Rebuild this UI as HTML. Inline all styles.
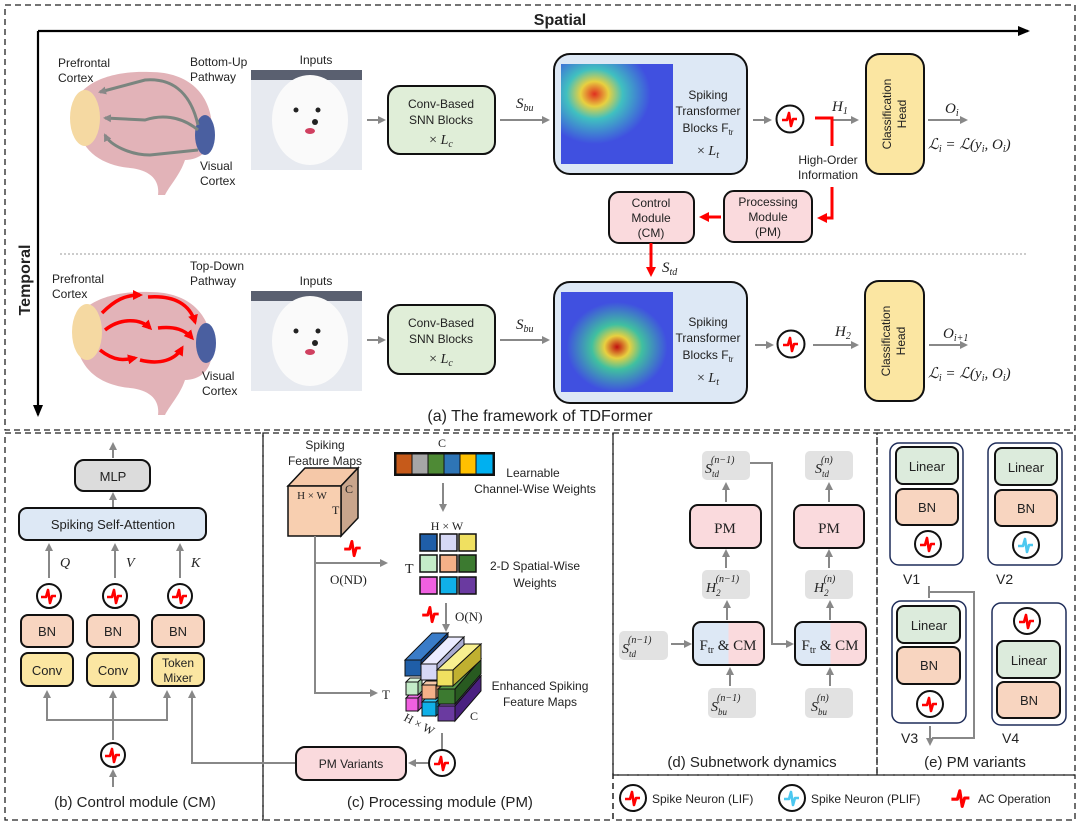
<!DOCTYPE html>
<html><head><meta charset="utf-8"><style>
body{margin:0;background:#fff}
svg{display:block}
text{font-family:"Liberation Sans",sans-serif;fill:#222}
.m{font-family:"Liberation Serif",serif;font-style:italic}
.s{font-family:"Liberation Serif",serif}
</style></head><body>
<svg width="1080" height="826" viewBox="0 0 1080 826" xmlns="http://www.w3.org/2000/svg">
<defs>
<marker id="ag" markerWidth="8" markerHeight="8" refX="6" refY="4" orient="auto" markerUnits="userSpaceOnUse"><path d="M0,0 L8,4 L0,8 z" fill="#888"/></marker>
<marker id="ar" markerWidth="10" markerHeight="10" refX="7" refY="5" orient="auto" markerUnits="userSpaceOnUse"><path d="M0,0 L10,5 L0,10 z" fill="#f00"/></marker>
<marker id="ak" markerWidth="12" markerHeight="10" refX="10" refY="5" orient="auto" markerUnits="userSpaceOnUse"><path d="M0,0 L12,5 L0,10 z" fill="#000"/></marker>
<symbol id="sp" viewBox="-10 -10 20 20"><path d="M-8,1 L-3,1 L-1,-6 L1,7 L3,0 L7,0" fill="none" stroke="#f00" stroke-width="2.6" stroke-linejoin="round"/></symbol>
<symbol id="spb" viewBox="-10 -10 20 20"><path d="M-8,1 L-3,1 L-1,-6 L1,7 L3,0 L7,0" fill="none" stroke="#4cc8f0" stroke-width="2.6" stroke-linejoin="round"/></symbol>
<radialGradient id="hm1" cx="0.3" cy="0.3" r="0.5"><stop offset="0" stop-color="#e03020"/><stop offset="0.25" stop-color="#e8d040"/><stop offset="0.5" stop-color="#40c0c0"/><stop offset="1" stop-color="#4050e0"/></radialGradient>
<radialGradient id="hm2" cx="0.5" cy="0.55" r="0.45"><stop offset="0" stop-color="#c01010"/><stop offset="0.25" stop-color="#e8d040"/><stop offset="0.5" stop-color="#40c0a0"/><stop offset="1" stop-color="#4050e0"/></radialGradient>
<linearGradient id="fc" x1="0" x2="1"><stop offset="0.5" stop-color="#dde8f5"/><stop offset="0.5" stop-color="#fadadd"/></linearGradient>
</defs>

<!-- frames -->
<g fill="none" stroke="#222" stroke-width="1.3" stroke-dasharray="6,4">
<rect x="5" y="5" width="1070" height="425"/>
<rect x="5" y="433" width="258" height="387"/>
<rect x="263" y="433" width="350" height="387"/>
<rect x="613" y="433" width="264" height="342"/>
<rect x="877" y="433" width="198" height="342"/>
<rect x="613" y="775" width="462" height="45"/>
</g>

<!-- axes -->
<line x1="38" y1="31" x2="1028" y2="31" stroke="#000" stroke-width="2.2" marker-end="url(#ak)"/>
<line x1="38" y1="31" x2="38" y2="415" stroke="#000" stroke-width="2.2" marker-end="url(#ak)"/>
<text x="560" y="25" font-size="16" font-weight="bold" text-anchor="middle" fill="#000">Spatial</text>
<text transform="translate(30,280) rotate(-90)" font-size="16" font-weight="bold" text-anchor="middle" fill="#000">Temporal</text>
<line x1="60" y1="254" x2="1028" y2="254" stroke="#999" stroke-dasharray="2,2"/>

<!-- brains -->
<g>
<path d="M75,115 C70,85 110,70 150,72 C190,72 210,95 212,125 C214,150 200,160 185,160 C180,175 170,185 165,195 L158,195 C160,180 150,170 130,168 C100,165 78,150 75,115 z" fill="#e2b3b8"/>
<ellipse cx="85" cy="118" rx="15" ry="28" fill="#f5d9a2"/>
<ellipse cx="205" cy="135" rx="10" ry="20" fill="#4a5fa0"/>
<g fill="none" stroke="#7a857f" stroke-width="3" marker-end="url(#ag)">
<path d="M198,125 C190,90 170,78 145,80 L100,92"/><path d="M198,130 C180,115 160,115 145,120 L105,118"/><path d="M198,150 L150,155 C130,155 110,145 105,135"/>
</g>
<path d="M75,335 C70,305 110,290 150,292 C190,292 210,315 212,345 C214,370 200,380 185,380 C180,395 170,405 165,415 L158,415 C160,400 150,390 130,388 C100,385 78,370 75,335 z" fill="#e2b3b8"/>
<ellipse cx="87" cy="332" rx="15" ry="28" fill="#f5d9a2"/>
<ellipse cx="206" cy="343" rx="10" ry="20" fill="#4a5fa0"/>
<g fill="none" stroke="#f00" stroke-width="3.5" marker-end="url(#ar)">
<path d="M102,313 C115,300 125,295 140,295"/><path d="M148,297 C175,295 190,305 195,322"/><path d="M105,330 C120,318 140,318 150,328"/><path d="M158,328 C175,326 185,330 192,338"/><path d="M100,350 C115,362 125,360 135,358"/><path d="M140,360 C160,365 175,360 182,348"/>
</g>
<text x="58" y="67" font-size="12">Prefrontal</text><text x="58" y="82" font-size="12">Cortex</text>
<text x="190" y="66" font-size="12">Bottom-Up</text><text x="190" y="81" font-size="12">Pathway</text>
<text x="200" y="170" font-size="12">Visual</text><text x="200" y="185" font-size="12">Cortex</text>
<text x="52" y="283" font-size="12">Prefrontal</text><text x="52" y="298" font-size="12">Cortex</text>
<text x="190" y="270" font-size="12">Top-Down</text><text x="190" y="285" font-size="12">Pathway</text>
<text x="202" y="380" font-size="12">Visual</text><text x="202" y="395" font-size="12">Cortex</text>
</g>

<!-- dogs -->
<g>
<text x="316" y="64" font-size="12" text-anchor="middle">Inputs</text>
<rect x="251" y="70" width="111" height="100" fill="#e7eaf0"/><rect x="251" y="70" width="111" height="10" fill="#5a6070"/>
<ellipse cx="310" cy="120" rx="38" ry="45" fill="#fafafa"/>
<circle cx="296" cy="110" r="2.5" fill="#222"/><circle cx="318" cy="110" r="2.5" fill="#222"/><circle cx="315" cy="122" r="3" fill="#222"/><ellipse cx="310" cy="131" rx="5" ry="3" fill="#d04060"/>
<text x="316" y="285" font-size="12" text-anchor="middle">Inputs</text>
<rect x="251" y="291" width="111" height="100" fill="#e7eaf0"/><rect x="251" y="291" width="111" height="10" fill="#5a6070"/>
<ellipse cx="310" cy="341" rx="38" ry="45" fill="#fafafa"/>
<circle cx="296" cy="331" r="2.5" fill="#222"/><circle cx="318" cy="331" r="2.5" fill="#222"/><circle cx="315" cy="343" r="3" fill="#222"/><ellipse cx="310" cy="352" rx="5" ry="3" fill="#d04060"/>
</g>

<!-- row 1 -->
<g stroke="#888" stroke-width="2" fill="none" marker-end="url(#ag)">
<line x1="367" y1="120" x2="384" y2="120"/><line x1="500" y1="120" x2="548" y2="120"/><line x1="753" y1="120" x2="770" y2="120"/><line x1="832" y1="120" x2="857" y2="120"/><line x1="928" y1="120" x2="966" y2="120"/>
<line x1="367" y1="340" x2="384" y2="340"/><line x1="500" y1="340" x2="548" y2="340"/><line x1="755" y1="345" x2="772" y2="345"/><line x1="813" y1="345" x2="857" y2="345"/><line x1="929" y1="345" x2="966" y2="345"/>
</g>
<rect x="388" y="86" width="107" height="68" rx="12" fill="#e0eed8" stroke="#111" stroke-width="2"/>
<text x="441" y="108" font-size="12" text-anchor="middle">Conv-Based</text><text x="441" y="124" font-size="12" text-anchor="middle">SNN Blocks</text><text x="441" y="144" font-size="14" text-anchor="middle" class="s">× <tspan class="m">L</tspan><tspan class="m" font-size="10" dy="3">c</tspan></text>
<rect x="388" y="305" width="107" height="69" rx="12" fill="#e0eed8" stroke="#111" stroke-width="2"/>
<text x="441" y="327" font-size="12" text-anchor="middle">Conv-Based</text><text x="441" y="343" font-size="12" text-anchor="middle">SNN Blocks</text><text x="441" y="363" font-size="14" text-anchor="middle" class="s">× <tspan class="m">L</tspan><tspan class="m" font-size="10" dy="3">c</tspan></text>
<text x="516" y="108" font-size="15" class="m">S<tspan font-size="10" dy="3">bu</tspan></text>
<text x="516" y="329" font-size="15" class="m">S<tspan font-size="10" dy="3">bu</tspan></text>

<rect x="554" y="54" width="193" height="120" rx="16" fill="#dde8f5" stroke="#111" stroke-width="2"/>
<rect x="561" y="64" width="112" height="100" fill="url(#hm1)"/>
<text x="708" y="99" font-size="12" text-anchor="middle">Spiking</text><text x="708" y="115" font-size="12" text-anchor="middle">Transformer</text><text x="708" y="132" font-size="12" text-anchor="middle">Blocks F<tspan font-size="8" dy="3">tr</tspan></text><text x="708" y="155" font-size="14" text-anchor="middle" class="s">× <tspan class="m">L</tspan><tspan class="m" font-size="10" dy="3">t</tspan></text>
<rect x="554" y="282" width="193" height="121" rx="16" fill="#dde8f5" stroke="#111" stroke-width="2"/>
<rect x="561" y="292" width="112" height="100" fill="url(#hm2)"/>
<text x="708" y="326" font-size="12" text-anchor="middle">Spiking</text><text x="708" y="342" font-size="12" text-anchor="middle">Transformer</text><text x="708" y="359" font-size="12" text-anchor="middle">Blocks F<tspan font-size="8" dy="3">tr</tspan></text><text x="708" y="382" font-size="14" text-anchor="middle" class="s">× <tspan class="m">L</tspan><tspan class="m" font-size="10" dy="3">t</tspan></text>

<circle cx="790" cy="119" r="13.5" fill="#fff" stroke="#111" stroke-width="2"/><use href="#sp" x="780" y="109" width="20" height="20"/>
<circle cx="791" cy="344" r="13.5" fill="#fff" stroke="#111" stroke-width="2"/><use href="#sp" x="781" y="334" width="20" height="20"/>
<text x="832" y="111" font-size="15" class="m">H<tspan font-size="10" dy="3" class="s">1</tspan></text>
<text x="835" y="336" font-size="15" class="m">H<tspan font-size="10" dy="3" class="s">2</tspan></text>
<path d="M815,118 L832,118 L832,146" fill="none" stroke="#f00" stroke-width="3"/>
<text x="828" y="164" font-size="12" text-anchor="middle">High-Order</text><text x="828" y="179" font-size="12" text-anchor="middle">Information</text>
<path d="M832,187 L832,218 L820,218" fill="none" stroke="#f00" stroke-width="3" marker-end="url(#ar)"/>
<rect x="724" y="191" width="88" height="51" rx="10" fill="#fadadd" stroke="#111" stroke-width="2"/>
<text x="768" y="206" font-size="12" text-anchor="middle">Processing</text><text x="768" y="221" font-size="12" text-anchor="middle">Module</text><text x="768" y="236" font-size="12" text-anchor="middle">(PM)</text>
<rect x="609" y="192" width="85" height="51" rx="10" fill="#fadadd" stroke="#111" stroke-width="2"/>
<text x="651" y="207" font-size="12" text-anchor="middle">Control</text><text x="651" y="222" font-size="12" text-anchor="middle">Module</text><text x="651" y="237" font-size="12" text-anchor="middle">(CM)</text>
<line x1="721" y1="217" x2="702" y2="217" stroke="#f00" stroke-width="3" marker-end="url(#ar)"/>
<line x1="651" y1="243" x2="651" y2="274" stroke="#f00" stroke-width="3" marker-end="url(#ar)"/>
<text x="662" y="272" font-size="15" class="m">S<tspan font-size="10" dy="3">td</tspan></text>

<rect x="866" y="54" width="58" height="120" rx="14" fill="#fbe6a2" stroke="#111" stroke-width="2"/>
<text transform="translate(891,114) rotate(-90)" font-size="12" text-anchor="middle">Classification</text><text transform="translate(906,114) rotate(-90)" font-size="12" text-anchor="middle">Head</text>
<rect x="865" y="281" width="59" height="120" rx="14" fill="#fbe6a2" stroke="#111" stroke-width="2"/>
<text transform="translate(890,341) rotate(-90)" font-size="12" text-anchor="middle">Classification</text><text transform="translate(905,341) rotate(-90)" font-size="12" text-anchor="middle">Head</text>
<text x="945" y="113" font-size="15" class="m">O<tspan font-size="10" dy="3">i</tspan></text>
<text x="943" y="338" font-size="15" class="m">O<tspan font-size="10" dy="3">i+1</tspan></text>
<text x="928" y="149" font-size="15" class="m">ℒ<tspan font-size="10" dy="3">i</tspan><tspan dy="-3" class="s"> = </tspan>ℒ<tspan class="s">(</tspan>y<tspan font-size="10" dy="3">i</tspan><tspan dy="-3" class="s">, </tspan>O<tspan font-size="10" dy="3">i</tspan><tspan dy="-3" class="s">)</tspan></text>
<text x="928" y="378" font-size="15" class="m">ℒ<tspan font-size="10" dy="3">i</tspan><tspan dy="-3" class="s"> = </tspan>ℒ<tspan class="s">(</tspan>y<tspan font-size="10" dy="3">i</tspan><tspan dy="-3" class="s">, </tspan>O<tspan font-size="10" dy="3">i</tspan><tspan dy="-3" class="s">)</tspan></text>
<text x="540" y="421" font-size="16" text-anchor="middle">(a) The framework of TDFormer</text>

<!-- panel b -->
<g stroke="#888" stroke-width="2" fill="none" marker-end="url(#ag)">
<line x1="113" y1="458" x2="113" y2="444"/><line x1="113" y1="507" x2="113" y2="494"/>
<line x1="49" y1="578" x2="49" y2="545"/><line x1="115" y1="578" x2="115" y2="545"/><line x1="180" y1="578" x2="180" y2="545"/>
<line x1="113" y1="740" x2="113" y2="692"/><line x1="113" y1="787" x2="113" y2="771"/>
<polyline points="113,720 47,720 47,692"/><polyline points="113,720 167,720 167,692"/>
<polyline points="296,763 192,763 192,692"/>
<line x1="442" y1="750" x2="442" y2="733" marker-end="none"/><line x1="428" y1="763" x2="410" y2="763"/>
</g>
<rect x="75" y="460" width="75" height="31" rx="9" fill="#dcdcdc" stroke="#111" stroke-width="2"/><text x="113" y="481" font-size="13" text-anchor="middle">MLP</text>
<rect x="19" y="508" width="187" height="32" rx="8" fill="#dde8f5" stroke="#111" stroke-width="2"/><text x="113" y="529" font-size="13" text-anchor="middle">Spiking Self-Attention</text>
<text x="60" y="567" font-size="14" class="m">Q</text><text x="126" y="567" font-size="14" class="m">V</text><text x="191" y="567" font-size="14" class="m">K</text>
<g fill="#fff" stroke="#111" stroke-width="2"><circle cx="49" cy="596" r="12"/><circle cx="115" cy="596" r="12"/><circle cx="180" cy="596" r="12"/><circle cx="113" cy="755" r="12"/><circle cx="442" cy="763" r="13"/></g>
<use href="#sp" x="39" y="586" width="20" height="20"/><use href="#sp" x="105" y="586" width="20" height="20"/><use href="#sp" x="170" y="586" width="20" height="20"/><use href="#sp" x="103" y="745" width="20" height="20"/><use href="#sp" x="432" y="753" width="20" height="20"/>
<g stroke="#111" stroke-width="2">
<rect x="21" y="615" width="52" height="32" rx="7" fill="#f8d5c0"/><rect x="87" y="615" width="52" height="32" rx="7" fill="#f8d5c0"/><rect x="152" y="615" width="52" height="32" rx="7" fill="#f8d5c0"/>
<rect x="21" y="653" width="52" height="33" rx="7" fill="#fbe6a2"/><rect x="87" y="653" width="52" height="33" rx="7" fill="#fbe6a2"/><rect x="152" y="653" width="52" height="33" rx="7" fill="#fbe6a2"/>
</g>
<text x="47" y="636" font-size="13" text-anchor="middle">BN</text><text x="113" y="636" font-size="13" text-anchor="middle">BN</text><text x="178" y="636" font-size="13" text-anchor="middle">BN</text>
<text x="47" y="675" font-size="13" text-anchor="middle">Conv</text><text x="113" y="675" font-size="13" text-anchor="middle">Conv</text><text x="178" y="667" font-size="12" text-anchor="middle">Token</text><text x="178" y="682" font-size="12" text-anchor="middle">Mixer</text>
<text x="135" y="807" font-size="15" text-anchor="middle">(b) Control module (CM)</text>

<!-- panel c -->
<text x="325" y="449" font-size="12" text-anchor="middle">Spiking</text><text x="325" y="465" font-size="12" text-anchor="middle">Feature Maps</text>
<path d="M288,486 L305,468 L358,468 L341,486 z" fill="#f5c8a8" stroke="#111" stroke-width="1.5"/>
<path d="M341,486 L358,468 L358,518 L341,536 z" fill="#c9a58c" stroke="#111" stroke-width="1.5"/>
<rect x="288" y="486" width="53" height="50" fill="#f8cfb0" stroke="#111" stroke-width="1.5"/>
<text x="312" y="499" font-size="11" text-anchor="middle" class="s">H × W</text><text x="332" y="514" font-size="12" class="s">T</text><text x="345" y="493" font-size="12" class="s">C</text>
<text x="442" y="447" font-size="12" text-anchor="middle" class="s">C</text>
<g stroke="#111" stroke-width="1"><rect x="396" y="454" width="16" height="20" fill="#c65a1a"/><rect x="412" y="454" width="16" height="20" fill="#a6a6a6"/><rect x="428" y="454" width="16" height="20" fill="#4e8a35"/><rect x="444" y="454" width="16" height="20" fill="#2e75b6"/><rect x="460" y="454" width="16" height="20" fill="#ffc000"/><rect x="476" y="454" width="17" height="20" fill="#00b0f0"/></g>
<rect x="395" y="453" width="99" height="22" fill="none" stroke="#111" stroke-width="2"/>
<text x="533" y="477" font-size="12" text-anchor="middle">Learnable</text><text x="535" y="493" font-size="12" text-anchor="middle">Channel-Wise Weights</text>
<g stroke="#888" stroke-width="2" fill="none" marker-end="url(#ag)">
<line x1="443" y1="483" x2="443" y2="510"/><line x1="446" y1="603" x2="446" y2="630"/>
<polyline points="315,536 315,693 376,693"/><line x1="315" y1="563" x2="386" y2="563"/>
</g>
<text x="447" y="530" font-size="12" text-anchor="middle" class="s">H × W</text>
<text x="405" y="573" font-size="14" class="s">T</text>
<g stroke="#111" stroke-width="1.5">
<rect x="420" y="534" width="17" height="17" fill="#1f5ea8"/><rect x="440" y="534" width="17" height="17" fill="#d6d8f5"/><rect x="459" y="534" width="17" height="17" fill="#f0e060"/>
<rect x="420" y="555" width="17" height="17" fill="#c4ecc8"/><rect x="440" y="555" width="17" height="17" fill="#f4b088"/><rect x="459" y="555" width="17" height="17" fill="#3c7a30"/>
<rect x="420" y="577" width="17" height="17" fill="#f060e0"/><rect x="440" y="577" width="17" height="17" fill="#10b0e8"/><rect x="459" y="577" width="17" height="17" fill="#6a3aa0"/>
</g>
<text x="535" y="570" font-size="12" text-anchor="middle">2-D Spatial-Wise</text><text x="535" y="587" font-size="12" text-anchor="middle">Weights</text>
<use href="#sp" x="342" y="537" width="22" height="22"/>
<text x="330" y="584" font-size="13" class="s">O(ND)</text>
<use href="#sp" x="420" y="603" width="22" height="22"/>
<text x="455" y="621" font-size="13" class="s">O(N)</text>
<text x="382" y="699" font-size="13" class="s">T</text>
<!-- 3d bars: row3, row2, row1 -->
<g stroke="#111" stroke-width="1">
<!-- row 3 -->
<path d="M406,698 L410,694 L422,694 L418,698 z" fill="#f070e8"/><rect x="406" y="698" width="12" height="13" fill="#f060e0"/><path d="M418,698 L422,694 L422,707 L418,711z" fill="#b040a8"/>
<path d="M422,702 L426,698 L440,698 L436,702 z" fill="#30c8f8"/><rect x="422" y="702" width="14" height="14" fill="#10b0e8"/><path d="M436,702 L440,698 L440,712 L436,716z" fill="#0888b8"/>
<path d="M438,706 L474,676 L481,676 L455,706 z" fill="#8a5ac0"/><rect x="438" y="706" width="17" height="15" fill="#6a3aa0"/><path d="M455,706 L481,676 L481,691 L455,721 z" fill="#4a2080"/>
<!-- row 2 -->
<path d="M406,682 L410,678 L422,678 L418,682 z" fill="#d8f4da"/><rect x="406" y="682" width="12" height="13" fill="#c4ecc8"/><path d="M418,682 L422,678 L422,691 L418,695z" fill="#98c89c"/>
<path d="M422,685 L426,681 L440,681 L436,685 z" fill="#f8c8a8"/><rect x="422" y="685" width="14" height="14" fill="#f4b088"/><path d="M436,685 L440,681 L440,695 L436,699z" fill="#c88860"/>
<path d="M438,689 L474,659 L481,659 L455,689 z" fill="#5a9a48"/><rect x="438" y="689" width="17" height="15" fill="#3c7a30"/><path d="M455,689 L481,659 L481,674 L455,704 z" fill="#285a20"/>
<!-- row 1 -->
<path d="M405,660 L432,633 L448,633 L421,660 z" fill="#3a7cc8"/><rect x="405" y="660" width="16" height="16" fill="#1f5ea8"/><path d="M421,660 L448,633 L448,649 L421,676 z" fill="#134080"/>
<path d="M421,664 L448,637 L464,637 L437,664 z" fill="#ececff"/><rect x="421" y="664" width="16" height="16" fill="#d6d8f5"/><path d="M437,664 L464,637 L464,653 L437,680 z" fill="#a8aad0"/>
<path d="M437,670 L465,644 L481,644 L453,670 z" fill="#f8f090"/><rect x="437" y="670" width="16" height="16" fill="#f0e060"/><path d="M453,670 L481,644 L481,660 L453,686 z" fill="#c0b030"/>
</g>
<text x="470" y="720" font-size="12" class="s">C</text>
<text transform="translate(403,720) rotate(28)" font-size="12" class="s">H × W</text>
<text x="540" y="690" font-size="12" text-anchor="middle">Enhanced Spiking</text><text x="540" y="706" font-size="12" text-anchor="middle">Feature Maps</text>
<rect x="296" y="747" width="110" height="33" rx="9" fill="#fadadd" stroke="#111" stroke-width="2"/><text x="351" y="768" font-size="12" text-anchor="middle">PM Variants</text>
<text x="440" y="807" font-size="15" text-anchor="middle">(c) Processing module (PM)</text>

<!-- panel d -->
<g fill="#e2e2e2"><rect x="702" y="451" width="48" height="29" rx="5"/><rect x="805" y="451" width="48" height="29" rx="5"/><rect x="702" y="570" width="48" height="29" rx="5"/><rect x="805" y="570" width="48" height="29" rx="5"/><rect x="619" y="631" width="49" height="29" rx="5"/><rect x="708" y="688" width="48" height="30" rx="5"/><rect x="805" y="688" width="48" height="30" rx="5"/></g>
<g stroke="#888" stroke-width="2" fill="none" marker-end="url(#ag)">
<line x1="726" y1="502" x2="726" y2="484"/><line x1="829" y1="502" x2="829" y2="484"/>
<line x1="726" y1="568" x2="726" y2="551"/><line x1="829" y1="568" x2="829" y2="551"/>
<line x1="727" y1="620" x2="727" y2="602"/><line x1="830" y1="620" x2="830" y2="602"/>
<line x1="730" y1="686" x2="730" y2="669"/><line x1="830" y1="686" x2="830" y2="669"/>
<line x1="671" y1="644" x2="690" y2="644"/><polyline points="750,463 772,463 772,644 792,644"/>
</g>
<rect x="690" y="505" width="71" height="43" rx="8" fill="#fadadd" stroke="#111" stroke-width="2"/><text x="725" y="533" font-size="15" text-anchor="middle" class="s">PM</text>
<rect x="794" y="505" width="70" height="43" rx="8" fill="#fadadd" stroke="#111" stroke-width="2"/><text x="829" y="533" font-size="15" text-anchor="middle" class="s">PM</text>
<rect x="693" y="622" width="71" height="43" rx="8" fill="url(#fc)" stroke="#111" stroke-width="2"/><text x="728" y="650" font-size="15" text-anchor="middle" class="s">F<tspan font-size="10" dy="3">tr</tspan><tspan dy="-3"> &amp; CM</tspan></text>
<rect x="795" y="622" width="71" height="43" rx="8" fill="url(#fc)" stroke="#111" stroke-width="2"/><text x="830" y="650" font-size="15" text-anchor="middle" class="s">F<tspan font-size="10" dy="3">tr</tspan><tspan dy="-3"> &amp; CM</tspan></text>
<g class="m" font-size="14">
<text x="705" y="473" class="m">S<tspan font-size="9" dy="4">td</tspan><tspan font-size="10" dy="-14" dx="-8">(n−1)</tspan></text>
<text x="815" y="473" class="m">S<tspan font-size="9" dy="4">td</tspan><tspan font-size="10" dy="-14" dx="-8">(n)</tspan></text>
<text x="706" y="592" class="m">H<tspan font-size="9" dy="4">2</tspan><tspan font-size="10" dy="-14" dx="-5">(n−1)</tspan></text>
<text x="814" y="592" class="m">H<tspan font-size="9" dy="4">2</tspan><tspan font-size="10" dy="-14" dx="-5">(n)</tspan></text>
<text x="622" y="653" class="m">S<tspan font-size="9" dy="4">td</tspan><tspan font-size="10" dy="-14" dx="-8">(n−1)</tspan></text>
<text x="711" y="711" class="m">S<tspan font-size="9" dy="4">bu</tspan><tspan font-size="10" dy="-14" dx="-10">(n−1)</tspan></text>
<text x="811" y="711" class="m">S<tspan font-size="9" dy="4">bu</tspan><tspan font-size="10" dy="-14" dx="-10">(n)</tspan></text>
</g>
<text x="752" y="767" font-size="15" text-anchor="middle">(d) Subnetwork dynamics</text>

<!-- panel e -->
<g fill="#fff" stroke="#1f2d5a" stroke-width="1.5"><rect x="890" y="443" width="73" height="122" rx="9"/><rect x="988" y="443" width="74" height="122" rx="9"/><rect x="892" y="601" width="74" height="122" rx="9"/><rect x="992" y="603" width="74" height="122" rx="9"/></g>
<g stroke="#111" stroke-width="2">
<rect x="896" y="447" width="62" height="37" rx="7" fill="#dcebdc"/><rect x="896" y="489" width="62" height="36" rx="7" fill="#f8d5c0"/>
<rect x="995" y="448" width="62" height="37" rx="7" fill="#dcebdc"/><rect x="995" y="490" width="62" height="36" rx="7" fill="#f8d5c0"/>
<rect x="897" y="606" width="63" height="37" rx="7" fill="#dcebdc"/><rect x="897" y="647" width="63" height="37" rx="7" fill="#f8d5c0"/>
<rect x="997" y="641" width="63" height="37" rx="7" fill="#dcebdc"/><rect x="997" y="682" width="63" height="36" rx="7" fill="#f8d5c0"/>
<circle cx="928" cy="544" r="13" fill="#fff"/><circle cx="1026" cy="545" r="13" fill="#fff"/><circle cx="930" cy="704" r="13" fill="#fff"/><circle cx="1027" cy="621" r="13" fill="#fff"/>
</g>
<use href="#sp" x="918" y="534" width="20" height="20"/><use href="#spb" x="1016" y="535" width="20" height="20"/><use href="#sp" x="920" y="694" width="20" height="20"/><use href="#sp" x="1017" y="611" width="20" height="20"/>
<g font-size="13" text-anchor="middle"><text x="927" y="471">Linear</text><text x="927" y="512">BN</text><text x="1026" y="472">Linear</text><text x="1026" y="513">BN</text><text x="929" y="630">Linear</text><text x="929" y="670">BN</text><text x="1029" y="665">Linear</text><text x="1029" y="705">BN</text></g>
<g font-size="14"><text x="903" y="584">V1</text><text x="996" y="584">V2</text><text x="901" y="743">V3</text><text x="1002" y="743">V4</text></g>
<polyline points="929,586 929,598 929,592 974,592 974,738 932,738" fill="none" stroke="#888" stroke-width="2"/>
<line x1="930" y1="726" x2="930" y2="744" stroke="#888" stroke-width="2" marker-end="url(#ag)"/>
<text x="975" y="767" font-size="15" text-anchor="middle">(e) PM variants</text>

<!-- legend -->
<circle cx="633" cy="798" r="13" fill="#fff" stroke="#111" stroke-width="2"/><use href="#sp" x="623" y="788" width="20" height="20"/>
<text x="652" y="803" font-size="12">Spike Neuron (LIF)</text>
<circle cx="792" cy="798" r="13" fill="#fff" stroke="#111" stroke-width="2"/><use href="#spb" x="782" y="788" width="20" height="20"/>
<text x="811" y="803" font-size="12">Spike Neuron (PLIF)</text>
<use href="#sp" x="949" y="786" width="24" height="24"/>
<text x="978" y="803" font-size="12">AC Operation</text>
</svg>
</body></html>
